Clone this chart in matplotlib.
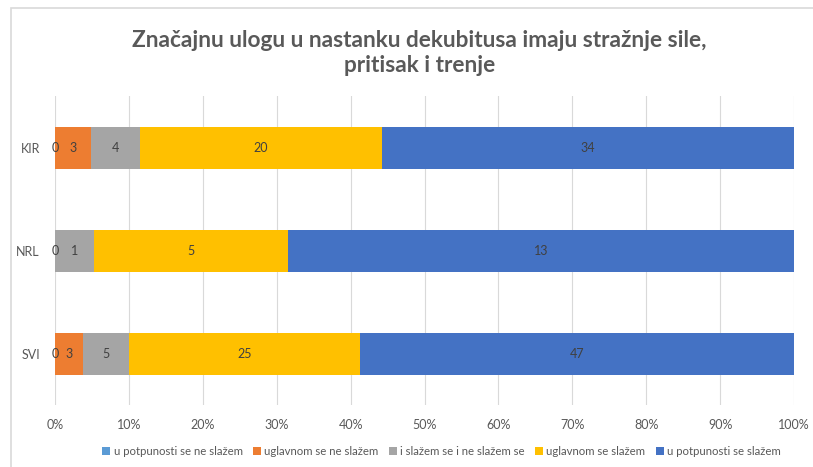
import numpy as np
import matplotlib
matplotlib.use('Agg')
import matplotlib.pyplot as plt
from matplotlib.patches import Rectangle

plt.rcParams['font.family'] = ['Lato', 'DejaVu Sans']

# podaci
kategorije = ['SVI', 'NRL', 'KIR']
odgovori = ['u potpunosti se ne slažem', 'uglavnom se ne slažem',
            'i slažem se i ne slažem se', 'uglavnom se slažem',
            'u potpunosti se slažem']
u_potpunosti_ne = [0, 0, 0]
uglavnom_ne = [3, 0, 3]
neutralno = [5, 1, 4]
uglavnom_da = [25, 5, 20]
u_potpunosti_da = [47, 13, 34]
boje = ['#5B9BD5', '#ED7D31', '#A5A5A5', '#FFC000', '#4472C4']

serije = np.array([u_potpunosti_ne, uglavnom_ne, neutralno, uglavnom_da, u_potpunosti_da], dtype=float)
ukupno = serije.sum(axis=0)
udjeli = serije / ukupno

fig = plt.figure(figsize=(8.13, 4.67), dpi=100)
ax = fig.add_axes([0.0677, 0.1317, 0.9089, 0.6617])

y = np.arange(len(kategorije))
lijevo = np.zeros(len(kategorije))
for i, (naziv, boja) in enumerate(zip(odgovori, boje)):
    ax.barh(y, udjeli[i], left=lijevo, height=0.41, color=boja, label=naziv, zorder=3)
    for j in range(len(kategorije)):
        # kod nula u istom redu crta se samo jedna oznaka
        if serije[i][j] == 0 and i > 0 and serije[:i, j].sum() == 0:
            continue
        ax.text(lijevo[j] + udjeli[i][j] / 2, y[j], f'{int(serije[i][j])}',
                ha='center', va='center', fontsize=9, color='#404040', zorder=4)
    lijevo += udjeli[i]

ax.set_xlim(0, 1)
ax.set_ylim(-0.5, 2.5)
ax.set_yticks(y)
ax.set_yticklabels(kategorije)
ax.set_xticks(np.linspace(0, 1, 11))
ax.set_xticklabels([f'{int(v)}%' for v in np.linspace(0, 100, 11)])
ax.tick_params(length=0, labelsize=9, labelcolor='#595959')
ax.tick_params(axis='x', pad=10)
ax.tick_params(axis='y', pad=11)
ax.grid(axis='x', color='#D9D9D9', lw=0.8, zorder=0)
for s in ax.spines.values():
    s.set_visible(False)

fig.text(0.516, 0.886, 'Značajnu ulogu u nastanku dekubitusa imaju stražnje sile,\npritisak i trenje',
         ha='center', va='center', fontsize=16.3, fontweight='bold', color='#595959', linespacing=1.25)

fig.legend(loc='center', bbox_to_anchor=(0.543, 0.034), ncol=5, frameon=False,
           fontsize=8.2, handlelength=0.7, handleheight=0.7, handletextpad=0.3,
           columnspacing=0.9, labelcolor='#595959')

fig.patches.append(Rectangle((11 / 813, -0.1), 1.2, 1.1 - 8 / 467, transform=fig.transFigure,
                             fill=False, edgecolor='#D9D9D9', lw=1.2))

fig.savefig('out.png', dpi=100)
